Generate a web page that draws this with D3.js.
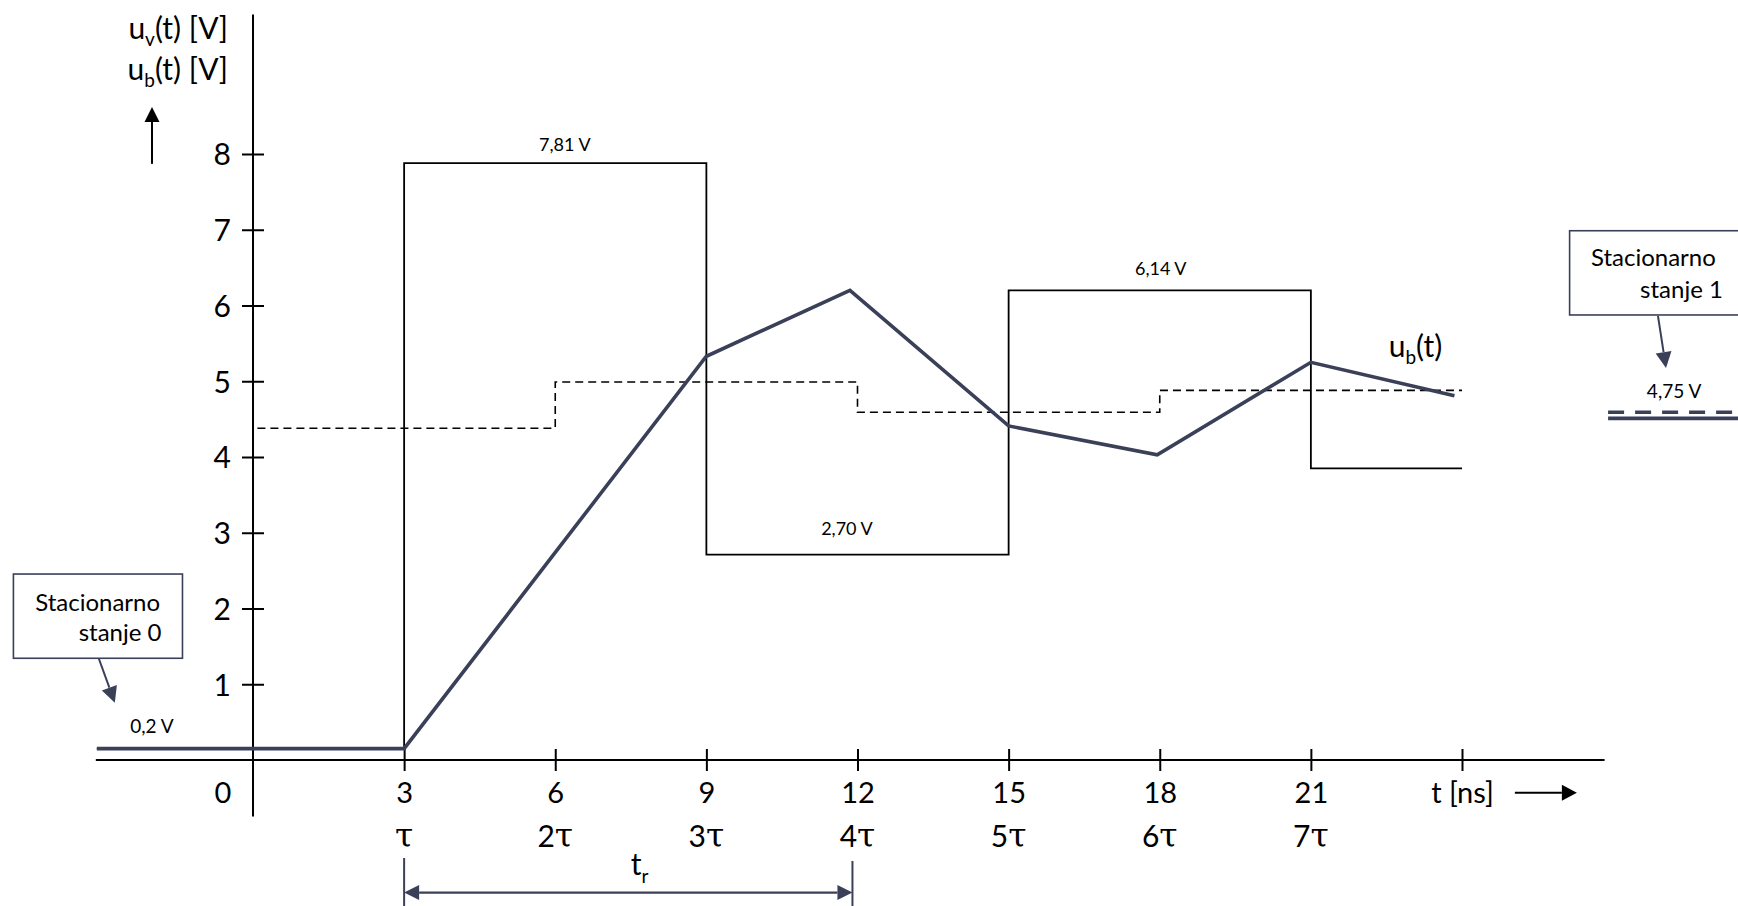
<!DOCTYPE html>
<html><head><meta charset="utf-8">
<script src="https://cdn.jsdelivr.net/npm/d3@7"></script>
<style>html,body{margin:0;padding:0;background:#fff;overflow:hidden}</style>
</head><body>
<svg id="chart" width="1738" height="906"></svg>
<script>
// ---------------- data ----------------
const tickTimes = [3, 6, 9, 12, 15, 18, 21, 24];
const tickLabels = ["3", "6", "9", "12", "15", "18", "21", "t [ns]"];
const tauTimes = [3, 6, 9, 12, 15, 18, 21];
const tauPrefixes = ["", "2", "3", "4", "5", "6", "7"];
const voltTicks = [1, 2, 3, 4, 5, 6, 7, 8];

// u_v(t): source voltage (step shape)
const uvTimes  = [3, 3, 9, 15, 21, 24];
const uvValues = [0.15, 7.88, 2.71, 6.20, 3.85, 3.85];
const uvLabelTimes  = [6.19, 11.79, 18.02];
const uvLabelValues = [8.04, 2.97, 6.40];
const uvLabelTexts  = ["7,81 V", "2,70 V", "6,14 V"];

// u_b(t): load voltage
const ubTimes  = [-3.1, 3, 9, 11.85, 15, 17.95, 21, 23.85];
const ubValues = [0.15, 0.15, 5.33, 6.20, 4.41, 4.03, 5.25, 4.81];

// dashed step (average level)
const avgTimes  = [-3.1, 0, 6, 12, 18, 24];
const avgValues = [0.15, 4.38, 4.99, 4.59, 4.88, 4.88];

// stationary states
const stat0Text = "0,2 V";
const stat1Text = "4,75 V";
const stat1Times = [26.9, 30.5];
const stat1Dashed = 4.59;
const stat1Solid = 4.51;

// ---------------- setup ----------------
const NAVY = "#3b4059";
const FONT = "Lato, 'Open Sans', sans-serif";
const svg = d3.select("#chart");
const x = d3.scaleLinear().domain([0, 24]).range([253, 1462]);
const y = d3.scaleLinear().domain([0, 8]).range([760, 154]);

function arrowHead(g, x1, y1, x2, y2, color, len, half) {
  const a = Math.atan2(y2 - y1, x2 - x1);
  const bx = x2 - len * Math.cos(a), by = y2 - len * Math.sin(a);
  const px = -Math.sin(a) * half, py = Math.cos(a) * half;
  g.append("path")
    .attr("d", `M${x2},${y2}L${bx + px},${by + py}L${bx - px},${by - py}Z`)
    .attr("fill", color);
  return [bx, by];
}
function arrow(g, x1, y1, x2, y2, color, w, len, half) {
  const [bx, by] = arrowHead(g, x1, y1, x2, y2, color, len, half);
  g.append("line").attr("x1", x1).attr("y1", y1).attr("x2", bx).attr("y2", by)
    .attr("stroke", color).attr("stroke-width", w);
}

// ---------------- axes ----------------
svg.append("line").attr("x1", x(-3.12)).attr("x2", x(26.83)).attr("y1", y(0)).attr("y2", y(0))
  .attr("stroke", "#000").attr("stroke-width", 2);
svg.append("line").attr("x1", x(0)).attr("x2", x(0)).attr("y1", y(9.84)).attr("y2", y(-0.745))
  .attr("stroke", "#000").attr("stroke-width", 2);

const gx = svg.append("g").attr("transform", `translate(0,${y(0)})`)
  .call(d3.axisBottom(x).tickValues(tickTimes).tickSize(0).tickFormat((d, i) => tickLabels[i]));
gx.attr("font-family", FONT).attr("font-size", 29);
gx.select(".domain").remove();
gx.selectAll(".tick line").attr("y1", -11).attr("y2", 11).attr("stroke", "#000").attr("stroke-width", 2);
gx.selectAll(".tick text").attr("y", 43).attr("dy", null).attr("fill", "#000");

const gy = svg.append("g").attr("transform", `translate(${x(0)},0)`)
  .call(d3.axisLeft(y).tickValues(voltTicks).tickSize(0).tickFormat(d3.format("d")));
gy.attr("font-family", FONT).attr("font-size", 30);
gy.select(".domain").remove();
gy.selectAll(".tick line").attr("x1", -11).attr("x2", 11).attr("stroke", "#000").attr("stroke-width", 2);
gy.selectAll(".tick text").attr("x", -22).attr("dy", "0.36em").attr("fill", "#000");

// origin label
svg.append("text").attr("x", x(0) - 30).attr("y", y(0) + 43).attr("text-anchor", "middle")
  .attr("font-family", FONT).attr("font-size", 29).text("0");

// tau labels
const tau = svg.append("g").selectAll("text").data(tauTimes).join("text")
  .attr("x", d => x(d)).attr("y", y(0) + 87).attr("text-anchor", "middle")
  .attr("font-size", 30).attr("font-family", FONT);
tau.append("tspan").text((d, i) => tauPrefixes[i]);
tau.append("tspan").attr("font-family", "'DejaVu Serif', 'Liberation Serif', serif").attr("font-size", 33).text("τ");

// t [ns] arrow
arrow(svg, x(25.05), y(-0.432), x(26.28), y(-0.432), "#000", 2, 15, 8);

// y-axis label
const yl = svg.append("g").attr("font-family", FONT).attr("font-size", 30);
[["v", 9.52], ["b", 8.98]].forEach(([s, v]) => {
  const t = yl.append("text").attr("x", x(0) - 25).attr("y", y(v)).attr("text-anchor", "end");
  t.append("tspan").text("u");
  t.append("tspan").attr("font-size", 19).attr("dy", 7).text(s);
  t.append("tspan").attr("dy", -7).text("(t) [V]");
});
arrow(svg, x(-2.005), y(7.87), x(-2.005), y(8.62), "#000", 2, 15, 7.5);

// ---------------- series ----------------
const pts = (ts, vs) => ts.map((t, i) => [x(t), y(vs[i])]);

svg.append("path").attr("d", d3.line().curve(d3.curveStepAfter)(pts(avgTimes, avgValues)))
  .attr("fill", "none").attr("stroke", "#000").attr("stroke-width", 1.6).attr("stroke-dasharray", "8,5");

svg.append("path").attr("d", d3.line().curve(d3.curveStepAfter)(pts(uvTimes, uvValues)))
  .attr("fill", "none").attr("stroke", "#000").attr("stroke-width", 1.8);

svg.append("path").attr("d", d3.line()(pts(ubTimes, ubValues)))
  .attr("fill", "none").attr("stroke", NAVY).attr("stroke-width", 3.6).attr("stroke-linejoin", "miter");

svg.append("g").selectAll("text").data(uvLabelTexts).join("text")
  .attr("x", (d, i) => x(uvLabelTimes[i])).attr("y", (d, i) => y(uvLabelValues[i]))
  .attr("text-anchor", "middle").attr("font-family", FONT).attr("font-size", 18).text(d => d);

// u_b(t) label
const ubl = svg.append("text").attr("x", x(22.545)).attr("y", y(5.324))
  .attr("font-family", FONT).attr("font-size", 30);
ubl.append("tspan").text("u");
ubl.append("tspan").attr("font-size", 19).attr("dy", 7).text("b");
ubl.append("tspan").attr("dy", -7).text("(t)");

// ---------------- stationary state 0 ----------------
svg.append("rect").attr("x", x(-4.756)).attr("y", y(2.455))
  .attr("width", x(-1.40) - x(-4.756)).attr("height", y(1.343) - y(2.455))
  .attr("fill", "#fff").attr("stroke", NAVY).attr("stroke-width", 1.6);
svg.append("text").attr("x", x(-4.324)).attr("y", y(1.971)).attr("font-family", FONT).attr("font-size", 24).text("Stacionarno");
svg.append("text").attr("x", x(-1.816)).attr("y", y(1.571)).attr("text-anchor", "end").attr("font-family", FONT).attr("font-size", 24).text("stanje 0");
arrow(svg, x(-3.063), y(1.343), x(-2.743), y(0.756), NAVY, 2, 16, 8);
svg.append("text").attr("x", x(-2.005)).attr("y", y(0.356)).attr("text-anchor", "middle")
  .attr("font-family", FONT).attr("font-size", 19).text(stat0Text);

// ---------------- stationary state 1 ----------------
svg.append("rect").attr("x", x(26.136)).attr("y", y(6.987))
  .attr("width", x(30.5) - x(26.136)).attr("height", y(5.875) - y(6.987))
  .attr("fill", "#fff").attr("stroke", NAVY).attr("stroke-width", 1.6);
svg.append("text").attr("x", x(26.56)).attr("y", y(6.525)).attr("font-family", FONT).attr("font-size", 24).text("Stacionarno");
svg.append("text").attr("x", x(29.18)).attr("y", y(6.099)).attr("text-anchor", "end").attr("font-family", FONT).attr("font-size", 24).text("stanje 1");
arrow(svg, x(27.89), y(5.862), x(28.05), y(5.175), NAVY, 2, 16, 8);
svg.append("text").attr("x", x(28.21)).attr("y", y(4.779)).attr("text-anchor", "middle")
  .attr("font-family", FONT).attr("font-size", 19).text(stat1Text);
svg.append("line").attr("x1", x(stat1Times[0])).attr("x2", x(stat1Times[1]))
  .attr("y1", y(stat1Dashed)).attr("y2", y(stat1Dashed))
  .attr("stroke", NAVY).attr("stroke-width", 3.6).attr("stroke-dasharray", "16,11");
svg.append("line").attr("x1", x(stat1Times[0])).attr("x2", x(stat1Times[1]))
  .attr("y1", y(stat1Solid)).attr("y2", y(stat1Solid))
  .attr("stroke", NAVY).attr("stroke-width", 3.6);

// ---------------- rise time t_r ----------------
const trStart = 3, trEnd = 11.9, trLevel = -1.75;
svg.append("line").attr("x1", x(trStart)).attr("x2", x(trStart)).attr("y1", y(-1.294)).attr("y2", y(-1.95))
  .attr("stroke", NAVY).attr("stroke-width", 2);
svg.append("line").attr("x1", x(trEnd)).attr("x2", x(trEnd)).attr("y1", y(-1.333)).attr("y2", y(-1.95))
  .attr("stroke", NAVY).attr("stroke-width", 2);
const [b1] = arrowHead(svg, x(trEnd), y(trLevel), x(trStart), y(trLevel), NAVY, 15, 7.5);
const [b2] = arrowHead(svg, x(trStart), y(trLevel), x(trEnd), y(trLevel), NAVY, 15, 7.5);
svg.append("line").attr("x1", b1).attr("x2", b2).attr("y1", y(trLevel)).attr("y2", y(trLevel))
  .attr("stroke", NAVY).attr("stroke-width", 2.2);
const trl = svg.append("text").attr("x", x(7.5)).attr("y", y(-1.518)).attr("font-family", FONT).attr("font-size", 30);
trl.append("tspan").text("t");
trl.append("tspan").attr("font-size", 19).attr("dy", 8).text("r");
</script>
</body></html>
